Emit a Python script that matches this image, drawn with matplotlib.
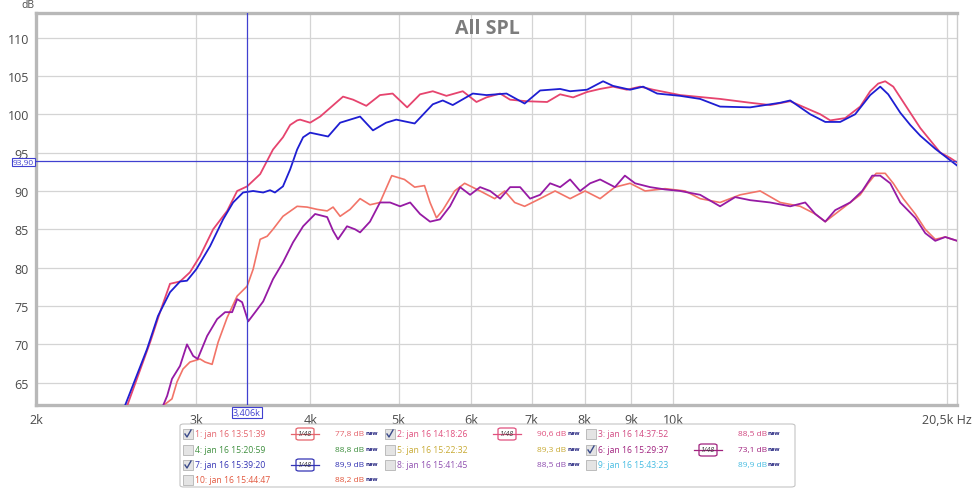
import matplotlib
matplotlib.use("Agg")
import matplotlib.pyplot as plt
import matplotlib.transforms as mtransforms
from matplotlib.patches import FancyBboxPatch, Rectangle
from matplotlib.lines import Line2D

plt.rcParams['font.family'] = ['Open Sans', 'DejaVu Sans']

# --- curve data (Hz, dB) ---
freq_2 = [2518, 2669, 2736, 2806, 2878, 2951, 3027, 3129, 3242, 3325, 3410, 3524, 3640,
          3733, 3801, 3869, 3898, 3998, 4101, 4345, 4457, 4608, 4770, 4925, 5109, 5278,
          5451, 5642, 5880, 6087, 6243, 6462, 6627, 6906, 7277, 7520, 7771, 8049, 8319,
          8594, 8902, 9205, 9513, 10185, 11265, 12156, 12787, 13450, 14511, 14881, 15455,
          16052, 16463, 16799, 17099, 17450, 17762, 18217, 18684, 19161, 19651, 20154, 20512]
spl_2 = [62.0, 70.3, 74.2, 77.9, 78.2, 79.4, 81.5, 85.0, 87.4, 90.0, 90.6, 92.2, 95.4,
         97.0, 98.6, 99.2, 99.3, 98.9, 99.7, 102.3, 101.9, 101.1, 102.5, 102.7, 100.9, 102.6,
         103.0, 102.4, 103.0, 101.6, 102.2, 102.7, 101.9, 101.7, 101.6, 102.6, 102.2, 102.9, 103.3,
         103.6, 103.2, 103.6, 103.2, 102.5, 102.0, 101.5, 101.2, 101.7, 100.0, 99.2, 99.5,
         101.0, 103.0, 104.0, 104.3, 103.6, 102.2, 100.2, 98.2, 96.6, 95.0, 94.3, 93.7]

freq_7 = [2504, 2648, 2722, 2806, 2878, 2929, 2999, 3105, 3209, 3291, 3375, 3462, 3551,
          3613, 3658, 3733, 3801, 3869, 3928, 3998, 4184, 4313, 4536, 4686, 4844, 4970,
          5207, 5451, 5590, 5733, 6031, 6243, 6567, 6875, 7149, 7520, 7712, 8049, 8382,
          8594, 8974, 9274, 9609, 10185, 10712, 11265, 12156, 13114, 13450, 14148, 14695,
          15261, 15849, 16463, 16885, 17229, 17762, 18217, 18684, 19404, 19900, 20512]
spl_7 = [62.0, 69.4, 73.7, 76.8, 78.2, 78.3, 79.8, 82.8, 86.3, 88.5, 89.8, 90.0, 89.8,
         90.1, 89.8, 90.6, 92.8, 95.4, 97.0, 97.6, 97.1, 98.9, 99.7, 97.9, 98.9, 99.3,
         98.8, 101.3, 101.8, 101.2, 102.7, 102.5, 102.7, 101.4, 103.1, 103.3, 103.0, 103.2, 104.3,
         103.7, 103.2, 103.6, 102.7, 102.4, 102.0, 101.0, 100.9, 101.5, 101.8, 100.0, 99.0,
         99.0, 100.0, 102.5, 103.6, 102.6, 100.2, 98.6, 97.2, 95.5, 94.5, 93.3]

freq_1 = [2757, 2820, 2856, 2900, 2951, 3027, 3066, 3121, 3169, 3242, 3325, 3410, 3462,
          3524, 3587, 3640, 3733, 3869, 3967, 4070, 4174, 4237, 4313, 4423, 4536, 4651,
          4770, 4914, 5074, 5207, 5338, 5413, 5502, 5590, 5760, 5908, 6143, 6374, 6537,
          6704, 6875, 7149, 7425, 7712, 8009, 8319, 8637, 8974, 9321, 9804, 10313, 10712,
          11265, 11852, 12468, 13114, 13795, 14329, 14695, 15261, 15651, 16052, 16378,
          16714, 17099, 17450, 17898, 18449, 18921, 19404, 19900, 20512]
spl_1 = [62.0, 62.9, 65.1, 66.8, 67.7, 68.1, 67.7, 67.4, 70.3, 73.5, 76.3, 77.6, 79.8,
         83.7, 84.1, 85.0, 86.7, 88.0, 87.9, 87.6, 87.4, 87.9, 86.7, 87.6, 89.0, 88.2,
         88.5, 92.0, 91.5, 90.5, 90.7, 88.5, 86.5, 87.5, 90.0, 91.0, 90.0, 89.0, 90.0,
         88.5, 88.0, 89.0, 90.0, 89.0, 90.0, 89.0, 90.5, 91.0, 90.0, 90.3, 90.0, 89.0,
         88.5, 89.5, 90.0, 88.5, 88.0, 87.0, 86.0, 87.5, 88.5, 89.5, 91.0,
         92.3, 92.3, 91.0, 89.0, 87.0, 85.0, 83.7, 84.0, 83.5]

freq_6 = [2757, 2786, 2820, 2878, 2929, 2975, 3009, 3082, 3161, 3225, 3283, 3325, 3367,
          3419, 3480, 3551, 3640, 3733, 3829, 3928, 4049, 4174, 4237, 4290, 4389, 4479,
          4536, 4651, 4770, 4893, 5018, 5148, 5278, 5413, 5551, 5693, 5840, 5990, 6143,
          6301, 6462, 6627, 6797, 6970, 7149, 7332, 7520, 7712, 7909, 8112, 8319, 8637,
          8857, 9088, 9441, 9804, 10185, 10712, 11265, 11704, 12156, 12787, 13450, 13970,
          14329, 14695, 15069, 15651, 16133, 16547, 16885, 17318, 17762, 18449, 18921,
          19404, 19900, 20512]
spl_6 = [62.0, 63.3, 65.5, 67.2, 70.0, 68.5, 68.1, 71.1, 73.3, 74.2, 74.2, 75.9, 75.5,
         73.0, 74.2, 75.6, 78.5, 80.7, 83.3, 85.4, 87.0, 86.6, 84.8, 83.7, 85.4, 85.0,
         84.6, 86.0, 88.5, 88.5, 88.0, 88.5, 87.0, 86.0, 86.3, 88.0, 90.5, 89.5, 90.5,
         90.0, 89.0, 90.5, 90.5, 89.0, 89.5, 91.0, 90.5, 91.5, 90.0, 91.0, 91.5, 90.5,
         92.0, 91.0, 90.5, 90.2, 90.0, 89.5, 88.0, 89.2, 88.8, 88.5, 88.0, 88.5,
         87.0, 86.0, 87.5, 88.5, 90.0, 92.0, 92.0, 91.0, 88.5, 86.5, 84.5,
         83.5, 84.0, 83.5]

x_ticks = [2000, 3000, 4000, 5000, 6000, 7000, 8000, 9000, 10000, 20000]
x_tick_labels = ['2k', '3k', '4k', '5k', '6k', '7k', '8k', '9k', '10k', '']
y_ticks = [65, 70, 75, 80, 85, 90, 95, 100, 105, 110]

cursor_f = 3406
cursor_db = 93.90

# legend entries (3 columns, filled row by row)
leg_labels = ['1: jan 16 13:51:39', '2: jan 16 14:18:26', '3: jan 16 14:37:52',
              '4: jan 16 15:20:59', '5: jan 16 15:22:32', '6: jan 16 15:29:37',
              '7: jan 16 15:39:20', '8: jan 16 15:41:45', '9: jan 16 15:43:23',
              '10: jan 16 15:44:47']
leg_values = ['77,8 dB', '90,6 dB', '88,5 dB', '88,8 dB', '89,3 dB', '73,1 dB',
              '89,9 dB', '88,5 dB', '89,9 dB', '88,2 dB']
leg_colors = ['#e4646c', '#e0507e', '#d24a82', '#3f8f3f', '#c8aa34', '#a0217e',
              '#3434b4', '#9050b0', '#46bce2', '#e2583e']
leg_checked = [True, True, False, False, False, True, True, False, False, False]

c_pink = '#e6446e'
c_blue = '#1e1ed2'
c_salmon = '#f27468'
c_purple = '#961aa4'
c_cursor = '#4040d0'

W, H = 975, 489
fig = plt.figure(figsize=(W / 100, H / 100), dpi=100)
ax = fig.add_axes([36 / W, 1 - 406 / H, 921 / W, 392 / H])

ax.set_xscale('log')
ax.set_xlim(2000, 20500)
ax.set_ylim(62.1, 113.2)

ax.plot(freq_1, spl_1, color=c_salmon, lw=1.2, zorder=3)
ax.plot(freq_6, spl_6, color=c_purple, lw=1.3, zorder=4)
ax.plot(freq_2, spl_2, color=c_pink, lw=1.3, zorder=3)
ax.plot(freq_7, spl_7, color=c_blue, lw=1.3, zorder=4)

ax.set_xticks(x_ticks)
ax.set_xticklabels(x_tick_labels)
ax.xaxis.set_minor_locator(matplotlib.ticker.NullLocator())
ax.set_yticks(y_ticks)
ax.tick_params(length=0, labelsize=9, colors='#4a4a4a')
ax.tick_params(axis='x', pad=6)
ax.tick_params(axis='y', pad=5)
ax.grid(True, color='#d4d4d4', lw=0.9)
ax.set_axisbelow(True)
for s in ['left', 'top', 'bottom']:
    ax.spines[s].set_color('#b8b8b8')
    ax.spines[s].set_linewidth(2.4)
ax.spines['right'].set_color('#cccccc')
ax.spines['right'].set_linewidth(1.0)

# cursor lines and their readouts
ax.axhline(cursor_db, color=c_cursor, lw=0.9, zorder=5)
ax.axvline(cursor_f, color=c_cursor, lw=0.9, zorder=5)
trans_y = mtransforms.blended_transform_factory(ax.transAxes, ax.transData)
ax.text(-0.002, cursor_db - 0.15, '93,90', transform=trans_y, ha='right', va='center',
        fontsize=6, color=c_cursor, clip_on=False, zorder=6,
        bbox=dict(boxstyle='square,pad=0.08', fc='white', ec=c_cursor, lw=0.8))
trans_x = mtransforms.blended_transform_factory(ax.transData, ax.transAxes)
ax.text(cursor_f, -0.008, '3,406k', transform=trans_x, ha='center', va='top',
        fontsize=6.5, color=c_cursor, clip_on=False,
        bbox=dict(boxstyle='square,pad=0.12', fc='white', ec=c_cursor, lw=0.8))

fig.text(28 / W, 1 - 5 / H, 'dB', fontsize=7.5, color='#4a4a4a', ha='center', va='center')
fig.text(972 / W, 1 - 420 / H, '20,5k Hz', fontsize=9, color='#4a4a4a', ha='right', va='center')
fig.text(487 / W, 1 - 29 / H, 'All SPL', fontsize=14, fontweight='bold', color='#7c7c7c',
         ha='center', va='center')


# --- legend panel ---
def fx(x):
    return x / W


def fy(y):
    return 1 - y / H


fig.patches.append(FancyBboxPatch((fx(180), fy(488)), fx(615), 63 / H,
                                  boxstyle='round,pad=0,rounding_size=0.004',
                                  transform=fig.transFigure, fc='white', ec='#c4c4c4', lw=0.8))

col_x = [188, 390, 591]
row_y = [435, 451, 466, 481]
icon_dx = 117
value_end_dx = 176
for i, lab in enumerate(leg_labels):
    cx = col_x[i % 3]
    cy = row_y[i // 3]
    col = leg_colors[i]
    fig.patches.append(Rectangle((fx(cx - 5), fy(cy + 5)), 10 / W, 10 / H,
                                 transform=fig.transFigure, fc='#e4e4e4', ec='#b4b4b4', lw=0.6))
    if leg_checked[i]:
        fig.lines.append(Line2D([fx(cx - 3), fx(cx - 1), fx(cx + 3)],
                                [fy(cy), fy(cy + 3), fy(cy - 4)],
                                transform=fig.transFigure, color='#3a4a8a', lw=1.0))
        ix = cx + icon_dx
        fig.lines.append(Line2D([fx(ix - 14), fx(ix + 14)], [fy(cy), fy(cy)],
                                transform=fig.transFigure, color=col, lw=0.9))
        fig.patches.append(FancyBboxPatch((fx(ix - 9), fy(cy + 6)), 18 / W, 12 / H,
                                          boxstyle='round,pad=0,rounding_size=0.003',
                                          transform=fig.transFigure, fc='white', ec=col, lw=0.9))
        fig.text(fx(ix), fy(cy), '1/48', fontsize=5, color='#333333',
                 ha='center', va='center', style='italic')
    fig.text(fx(cx + 7), fy(cy), lab, fontsize=6.2, color=col, ha='left', va='center')
    fig.text(fx(cx + value_end_dx), fy(cy), leg_values[i], fontsize=6, color=col,
             ha='right', va='center')
    fig.text(fx(cx + value_end_dx + 1), fy(cy + 1), 'new', fontsize=4.3, color='#1a1a7a',
             fontweight='bold', ha='left', va='bottom')

fig.savefig('out.png', dpi=100, facecolor='white')
